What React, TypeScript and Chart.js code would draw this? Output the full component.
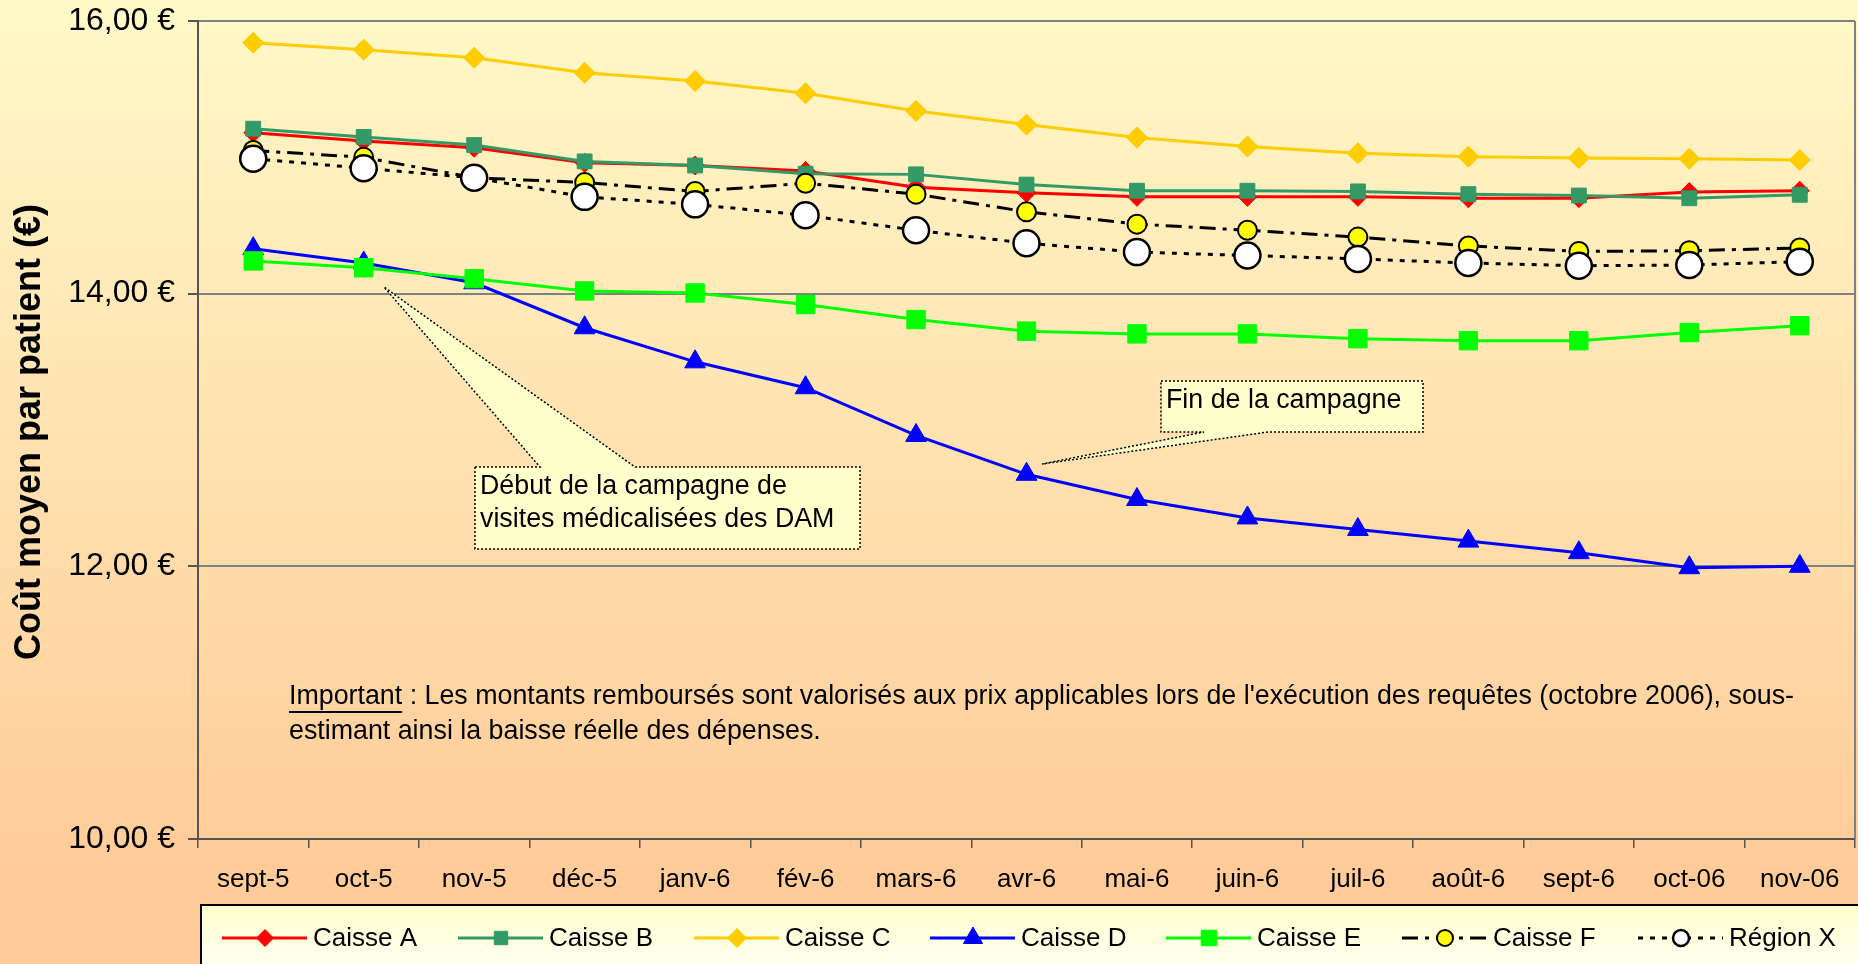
import React, { useEffect, useRef } from 'react';
import { Chart, registerables } from 'chart.js';
Chart.register(...registerables);

const labels = ['sept-5', 'oct-5', 'nov-5', 'déc-5', 'janv-6', 'fév-6', 'mars-6', 'avr-6', 'mai-6', 'juin-6', 'juil-6', 'août-6', 'sept-6', 'oct-06', 'nov-06'];

const caisseA = [15.18, 15.12, 15.07, 14.96, 14.94, 14.9, 14.78, 14.74, 14.71, 14.71, 14.71, 14.7, 14.7, 14.745, 14.755];
const caisseB = [15.21, 15.15, 15.09, 14.97, 14.94, 14.88, 14.875, 14.8, 14.755, 14.755, 14.75, 14.73, 14.72, 14.7, 14.725];
const caisseC = [15.84, 15.79, 15.73, 15.62, 15.56, 15.47, 15.34, 15.24, 15.145, 15.08, 15.03, 15.005, 14.995, 14.99, 14.98];
const caisseD = [14.33, 14.225, 14.08, 13.75, 13.5, 13.31, 12.96, 12.675, 12.49, 12.355, 12.27, 12.185, 12.1, 11.99, 12.0];
const caisseE = [14.24, 14.19, 14.11, 14.02, 14.005, 13.92, 13.81, 13.725, 13.705, 13.705, 13.67, 13.655, 13.655, 13.715, 13.765];
const caisseF = [15.05, 15.0, 14.85, 14.815, 14.75, 14.81, 14.73, 14.6, 14.51, 14.465, 14.415, 14.35, 14.31, 14.315, 14.335];
const regionX = [14.99, 14.92, 14.85, 14.71, 14.655, 14.575, 14.465, 14.37, 14.305, 14.28, 14.255, 14.225, 14.205, 14.21, 14.235];

const yTicks = [10, 12, 14, 16];
const yTitle = 'Coût moyen par patient (€)';
const callout1 = ['Début de la campagne de', 'visites médicalisées des DAM'];
const callout2 = ['Fin de la campagne'];
const noteUnderlined = 'Important';
const noteLine1 = " : Les montants remboursés sont valorisés aux prix applicables lors de l'exécution des requêtes (octobre 2006), sous-";
const noteLine2 = 'estimant ainsi la baisse réelle des dépenses.';

const FONT = '"Liberation Sans", Arial, sans-serif';

function drawMarker(ctx: CanvasRenderingContext2D, style: string, x: number, y: number, r: number, fill: string, stroke: string, lw: number) {
  ctx.save();
  ctx.setLineDash([]);
  ctx.beginPath();
  if (style === 'rectRot') {
    ctx.moveTo(x, y - r); ctx.lineTo(x + r, y); ctx.lineTo(x, y + r); ctx.lineTo(x - r, y); ctx.closePath();
  } else if (style === 'rect') {
    const s = r * Math.SQRT1_2;
    ctx.rect(x - s, y - s, 2 * s, 2 * s);
  } else if (style === 'triangle') {
    for (let k = 0; k < 3; k++) {
      const a = (k * 2 * Math.PI) / 3;
      const px = x + Math.sin(a) * r, py = y - Math.cos(a) * r;
      if (k === 0) ctx.moveTo(px, py); else ctx.lineTo(px, py);
    }
    ctx.closePath();
  } else {
    ctx.arc(x, y, r, 0, Math.PI * 2);
  }
  ctx.fillStyle = fill;
  ctx.fill();
  if (lw > 0) { ctx.lineWidth = lw; ctx.strokeStyle = stroke; ctx.stroke(); }
  ctx.restore();
}

const decor = {
  id: 'decor',
  beforeDraw(chart: any) {
    const { ctx, width, height } = chart;
    const g = ctx.createLinearGradient(0, 0, 0, height);
    g.addColorStop(0, '#FFF9C8');
    g.addColorStop(0.9, '#FFCC99');
    g.addColorStop(1, '#FFCC99');
    ctx.save();
    ctx.fillStyle = g;
    ctx.fillRect(0, 0, width, height);
    ctx.restore();
  },
  afterDraw(chart: any) {
    const { ctx, chartArea } = chart;
    ctx.save();
    // right border
    ctx.strokeStyle = '#808080';
    ctx.lineWidth = 2;
    ctx.beginPath();
    ctx.moveTo(chartArea.right, chartArea.top);
    ctx.lineTo(chartArea.right, chartArea.bottom);
    ctx.stroke();

    // y title
    ctx.save();
    ctx.translate(30, 432);
    ctx.rotate(-Math.PI / 2);
    ctx.font = `bold 36px ${FONT}`;
    ctx.fillStyle = '#000';
    ctx.textAlign = 'center';
    ctx.textBaseline = 'middle';
    ctx.fillText(yTitle, 0, 0);
    ctx.restore();

    // callouts
    const drawCallout = (pts: number[][]) => {
      ctx.save();
      ctx.beginPath();
      pts.forEach((p, i) => (i === 0 ? ctx.moveTo(p[0], p[1]) : ctx.lineTo(p[0], p[1])));
      ctx.closePath();
      ctx.fillStyle = '#FFFFCC';
      ctx.fill();
      ctx.setLineDash([2, 2]);
      ctx.lineWidth = 1.5;
      ctx.strokeStyle = '#000';
      ctx.stroke();
      ctx.restore();
    };
    drawCallout([[475, 467], [540, 467], [384, 287], [635, 467], [860, 467], [860, 549], [475, 549]]);
    drawCallout([[1161, 381], [1423, 381], [1423, 432], [1268, 432], [1042, 464], [1204, 432], [1161, 432]]);

    ctx.fillStyle = '#000';
    ctx.font = `26.8px ${FONT}`;
    ctx.textAlign = 'left';
    ctx.textBaseline = 'middle';
    ctx.fillText(callout1[0], 480, 487);
    ctx.fillText(callout1[1], 480, 520);
    ctx.fillText(callout2[0], 1166, 401);

    // note
    const nx = 289;
    ctx.fillText(noteUnderlined, nx, 697);
    const uw = ctx.measureText(noteUnderlined).width;
    ctx.fillText(noteLine1, nx + uw, 697);
    ctx.fillText(noteLine2, nx, 732);
    ctx.lineWidth = 2;
    ctx.strokeStyle = '#000';
    ctx.beginPath();
    ctx.moveTo(nx, 712);
    ctx.lineTo(nx + uw, 712);
    ctx.stroke();

    // legend
    const lg = ctx.createLinearGradient(0, 905, 0, 990);
    lg.addColorStop(0, '#FFFFCC');
    lg.addColorStop(1, '#FFFFFF');
    ctx.fillStyle = lg;
    ctx.fillRect(201, 905, 1700, 80);
    ctx.strokeStyle = '#000';
    ctx.lineWidth = 2;
    ctx.beginPath();
    ctx.moveTo(201, 990);
    ctx.lineTo(201, 905);
    ctx.lineTo(1900, 905);
    ctx.stroke();

    const ly = 938;
    chart.data.datasets.forEach((ds: any, i: number) => {
      const x0 = 222 + 236 * i;
      ctx.save();
      ctx.strokeStyle = ds.borderColor;
      ctx.lineWidth = 3;
      ctx.setLineDash(ds.borderDash || []);
      ctx.beginPath();
      ctx.moveTo(x0, ly);
      ctx.lineTo(x0 + 85, ly);
      ctx.stroke();
      ctx.restore();
      const r = ds.legendRadius;
      drawMarker(ctx, ds.pointStyle, x0 + 43, ly, r, ds.pointBackgroundColor, ds.pointBorderColor, ds.pointBorderWidth);
      ctx.fillStyle = '#000';
      ctx.font = `26px ${FONT}`;
      ctx.textAlign = 'left';
      ctx.textBaseline = 'middle';
      ctx.fillText(ds.label, x0 + 91, ly + 1);
    });
    ctx.restore();
  },
};

const zeroPad = (s: any) => {
  s.paddingTop = 0;
  s.paddingBottom = 0;
  s.paddingLeft = 0;
  s.paddingRight = 0;
};

export default function App() {
  const ref = useRef<HTMLCanvasElement>(null);
  useEffect(() => {
    document.body.style.margin = '0';
    const mk = (label: string, data: number[], color: string, style: string, radius: number, extra: any = {}) => ({
      label,
      data,
      borderColor: color,
      backgroundColor: color,
      borderWidth: 3,
      pointStyle: style,
      pointRadius: radius,
      pointHoverRadius: radius,
      pointBackgroundColor: color,
      pointBorderColor: color,
      pointBorderWidth: 1,
      legendRadius: radius - 1,
      tension: 0,
      fill: false,
      clip: false,
      ...extra,
    });
    const chart = new Chart(ref.current as HTMLCanvasElement, {
      type: 'line',
      data: {
        labels,
        datasets: [
          mk('Caisse A', caisseA, '#FF0000', 'rectRot', 9.5, { order: 7 }),
          mk('Caisse B', caisseB, '#339966', 'rect', 10.5, { order: 6 }),
          mk('Caisse C', caisseC, '#FFCC00', 'rectRot', 10.5, { order: 5 }),
          mk('Caisse D', caisseD, '#0000FF', 'triangle', 12, { order: 4 }),
          mk('Caisse E', caisseE, '#00FF00', 'rect', 13, { order: 3, legendRadius: 11 }),
          mk('Caisse F', caisseF, '#000000', 'circle', 9.5, {
            order: 2, borderDash: [16, 7, 4, 7], pointBackgroundColor: '#FFFF00', pointBorderColor: '#000000', pointBorderWidth: 2, legendRadius: 8,
          }),
          mk('Région X', regionX, '#000000', 'circle', 13, {
            order: 1, borderDash: [5, 7], pointBackgroundColor: '#FFFFFF', pointBorderColor: '#000000', pointBorderWidth: 2.5, legendRadius: 8,
          }),
        ],
      } as any,
      options: {
        animation: false,
        responsive: false,
        devicePixelRatio: 1,
        layout: { autoPadding: false, padding: { top: 21, right: 3, left: 0, bottom: 0 } },
        plugins: { legend: { display: false }, tooltip: { enabled: false }, title: { display: false } },
        scales: {
          x: {
            type: 'category',
            offset: true,
            grid: { display: true, offset: true, drawOnChartArea: false, drawTicks: true, tickLength: 9, color: '#555555', lineWidth: 1.5 },
            border: { display: true, color: '#555555', width: 2 },
            ticks: { font: { family: FONT, size: 26 }, color: '#000', padding: 16, maxRotation: 0, autoSkip: false },
            afterFit: (s: any) => { s.height = 125; zeroPad(s); },
          },
          y: {
            min: 10,
            max: 16,
            afterBuildTicks: (s: any) => { s.ticks = yTicks.map((v) => ({ value: v })); },
            ticks: {
              font: { family: FONT, size: 32 },
              color: '#000',
              padding: 13,
              callback: (v: any) => Number(v).toFixed(2).replace('.', ',') + ' €',
            },
            grid: { color: '#808080', lineWidth: 2, tickLength: 10, tickColor: '#555555' },
            border: { display: true, color: '#555555', width: 2 },
            afterFit: (s: any) => { s.width = 198; zeroPad(s); },
          },
        },
      } as any,
      plugins: [decor],
    });
    return () => chart.destroy();
  }, []);
  return <canvas ref={ref} width={1858} height={964} style={{ display: 'block', width: 1858, height: 964 }} />;
}
